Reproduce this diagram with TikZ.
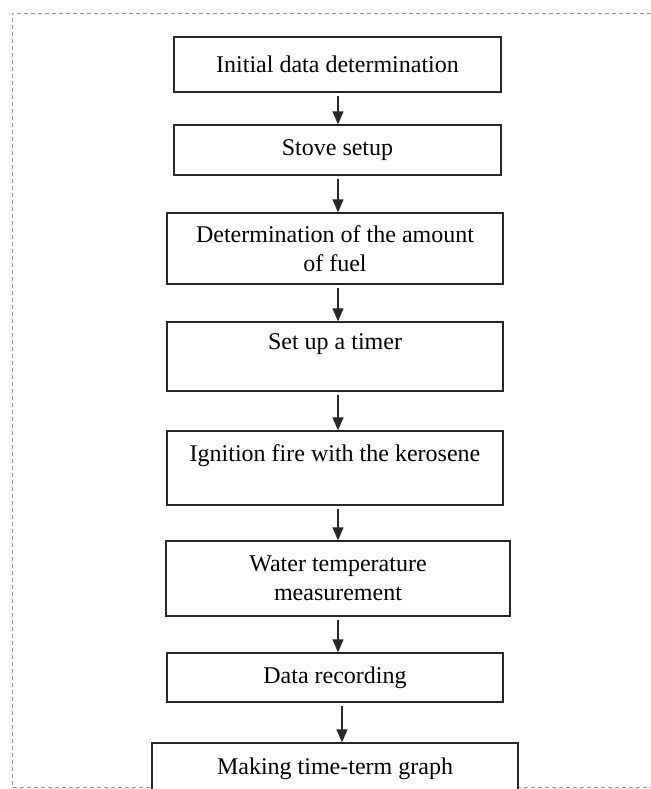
\documentclass[tikz,border=0pt]{standalone}
\usepackage{fontspec}
\setmainfont{Liberation Serif}
\usetikzlibrary{arrows.meta,positioning,calc}
\definecolor{linea}{RGB}{40,40,40}
\definecolor{marco}{RGB}{150,150,150}

\begin{document}
\begin{tikzpicture}[x=0.5pt,y=-0.5pt,>={Triangle[length=6.5pt,width=5.5pt]},
    etapa/.style={draw=linea,line width=0.65pt,fill=white,align=center,inner sep=0pt,
      font=\fontsize{12}{14.5}\selectfont},
    flujo/.style={->,linea,line width=0.6pt,shorten <=1.5pt}]
        \useasboundingbox (0,0) rectangle (651,789);
        \draw[marco,line width=0.5pt,dash pattern=on 2pt off 1.5pt] (700,13) -- (12,13) -- (12,787) -- (700,787);
        \node[etapa,minimum width=163.5pt,minimum height=27.5pt] (init) at (337.5,64.5) {Initial data determination};
        \node[etapa,minimum width=163.5pt,minimum height=25pt] (stove) at (337.5,150) {Stove setup};
        \node[etapa,minimum width=168pt,minimum height=35.5pt] (fuel) at (335,248.5) {Determination of the amount\\of fuel};
        \node[etapa,minimum width=168pt,minimum height=34.5pt] (timer) at (335,356.5) {Set up a timer\\~};
        \node[etapa,minimum width=168pt,minimum height=37pt] (ignite) at (335,468) {Ignition fire with the kerosene\\~};
        \node[etapa,minimum width=172pt,minimum height=37.5pt] (temp) at (338,578.5) {Water temperature\\measurement};
        \node[etapa,minimum width=168pt,minimum height=24.5pt] (record) at (335,677.5) {Data recording};
        \node[etapa,minimum width=183pt,minimum height=26pt] (graph) at (335,769) {Making time-term graph};
        \coordinate (eje) at (338,0);
        \coordinate (eje2) at (342,0);
        \foreach \a/\b in {init/stove,stove/fuel,fuel/timer,timer/ignite,ignite/temp,temp/record}
          \draw[flujo] (\a.south -| eje) -- (\b.north -| eje);
        \draw[flujo] (record.south -| eje2) -- (graph.north -| eje2);
      \end{tikzpicture}
\end{document}
